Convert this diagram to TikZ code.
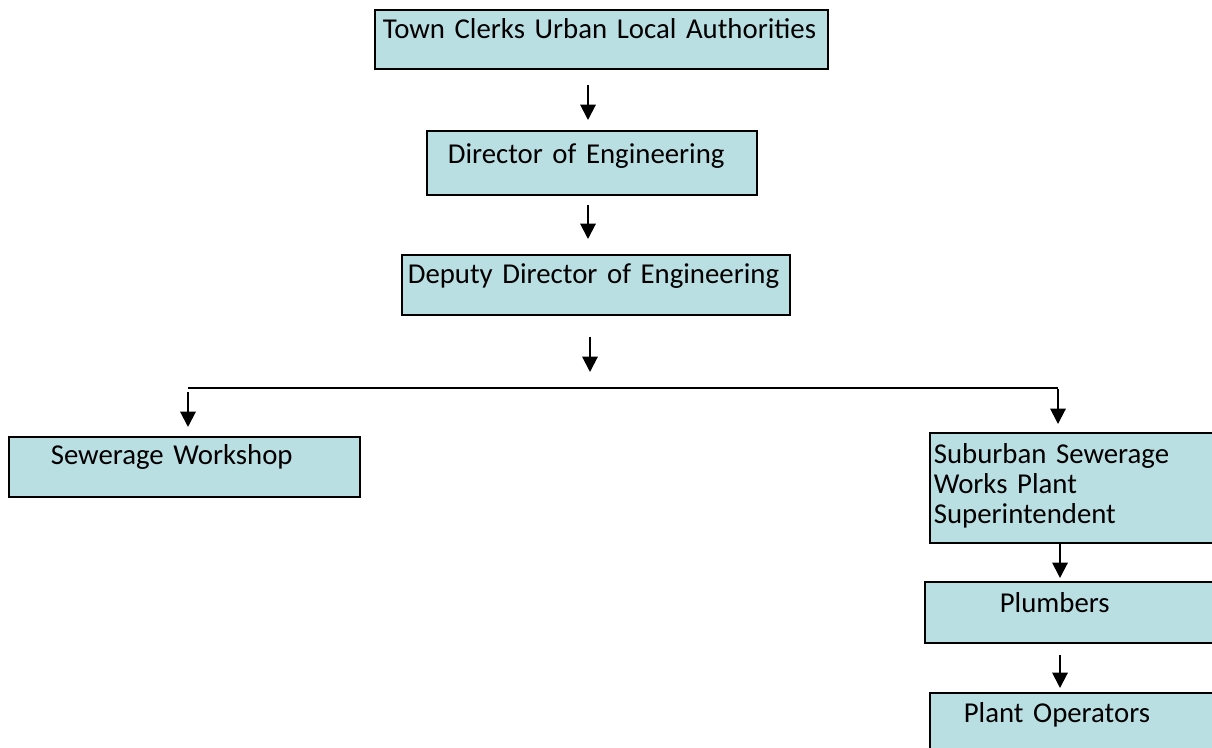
\documentclass[tikz,border=0pt]{standalone}
\usepackage{tikz}
\usepackage{fontspec}
\setmainfont{Carlito}
\usetikzlibrary{arrows.meta}
\usepackage{xcolor}

\definecolor{caixa}{RGB}{185,223,227}

\tikzset{
  cargo/.style={draw=black, fill=caixa, line width=1.2pt, anchor=north west,
    inner ysep=0pt, align=left, font=\fontsize{21.6}{22.2}\selectfont},
  seta/.style={-{Triangle[length=11.5pt, width=11.5pt]}, line width=1.5pt}
}

\begin{document}
\begin{tikzpicture}[x=0.75pt, y=-0.75pt]
    \useasboundingbox (0,0) rectangle (1212,748);
    \clip (0,0) rectangle (1212,748);

    % Primeiro nivel
    \node[cargo, inner xsep=6pt, text width=327.75pt, text height=21.75pt, text depth=22.5pt]
      (tc) at (374,9) {\mbox{Town Clerks Urban Local Authorities}};
    \node[cargo, inner xsep=15.75pt, text width=216pt, text height=24.75pt, text depth=23.25pt]
      (de) at (426,130) {Director of Engineering};
    \node[cargo, inner xsep=4.5pt, text width=282pt, text height=21.75pt, text depth=23.25pt]
      (dd) at (401,254) {Deputy Director of Engineering};

    % Ramos
    \node[cargo, inner xsep=31.5pt, text width=200.25pt, text height=21pt, text depth=24pt]
      (sw) at (8,436) {Sewerage Workshop};
    \node[cargo, inner xsep=3pt, text width=219.75pt, text height=23.25pt, text depth=59.25pt]
      (ss) at (929,432) {Suburban Sewerage\\Works Plant\\Superintendent};
    \node[cargo, inner xsep=56.25pt, text width=117pt, text height=23.25pt, text depth=22.5pt]
      (pl) at (924,581) {Plumbers};
    \node[cargo, inner xsep=25.5pt, text width=174.75pt, text height=22.5pt, text depth=36pt]
      (po) at (929,692) {Plant Operators};

    \coordinate (c1) at (588,0);
    \coordinate (c2) at (590,388);
    \coordinate (esq) at (188,388);
    \coordinate (dir) at (1058,388);
    \coordinate (c3) at (1060,0);

    \draw[seta, shorten <=11.25pt, shorten >=7.5pt] (tc.south -| c1) -- (de.north -| c1);
    \draw[seta, shorten <=6.75pt, shorten >=11.25pt] (de.south -| c1) -- (dd.north -| c1);
    \draw[seta, shorten <=15.75pt, shorten >=12pt] (dd.south -| c2) -- (c2);

    \draw[line width=1.5pt] (esq) -- (dir);
    \draw[seta, shorten <=3pt, shorten >=6.75pt] (esq) -- (esq |- sw.north);
    \draw[seta, shorten <=0.75pt, shorten >=6pt] (dir) -- (dir |- ss.north);

    \draw[seta, shorten >=2.25pt] (ss.south -| c3) -- (pl.north -| c3);
    \draw[seta, shorten <=8.25pt, shorten >=3pt] (pl.south -| c3) -- (po.north -| c3);
\end{tikzpicture}
\end{document}
